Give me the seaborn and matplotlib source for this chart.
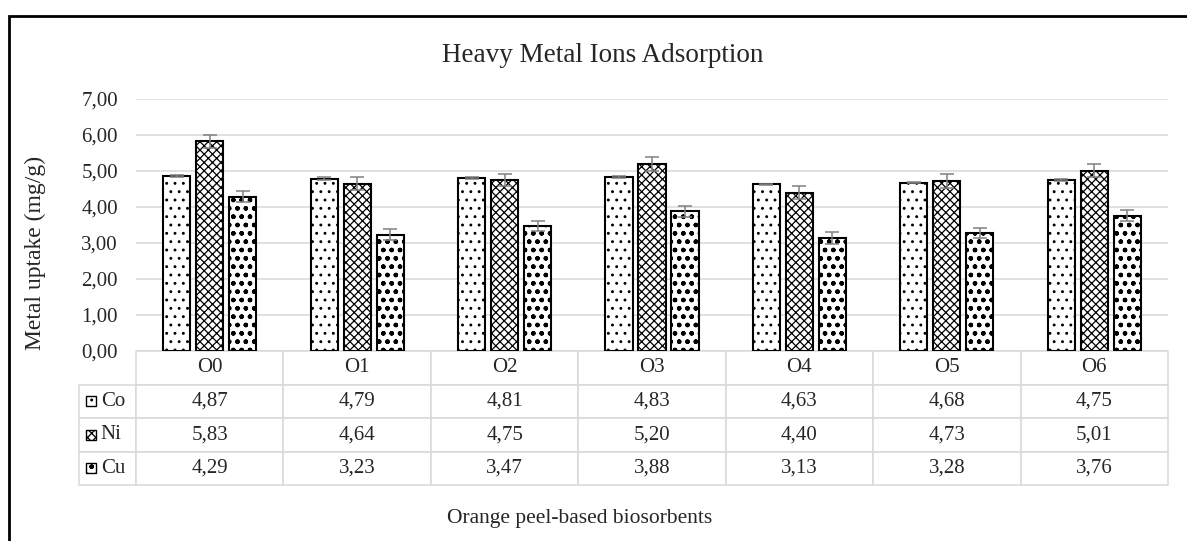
import numpy as np
import pandas as pd
import matplotlib
matplotlib.use("Agg")
import matplotlib.pyplot as plt
import seaborn as sns
from matplotlib.patches import Rectangle
from matplotlib.table import Table
from matplotlib.ticker import FuncFormatter

samples = ["O0", "O1", "O2", "O3", "O4", "O5", "O6"]
metals = ["Co", "Ni", "Cu"]
co_uptake = [4.87, 4.79, 4.81, 4.83, 4.63, 4.68, 4.75]
ni_uptake = [5.83, 4.64, 4.75, 5.20, 4.40, 4.73, 5.01]
cu_uptake = [4.29, 3.23, 3.47, 3.88, 3.13, 3.28, 3.76]
co_err = [0.03, 0.03, 0.03, 0.03, 0.02, 0.02, 0.03]
ni_err = [0.18, 0.18, 0.17, 0.19, 0.19, 0.19, 0.18]
cu_err = [0.16, 0.16, 0.15, 0.15, 0.17, 0.15, 0.16]

uptakes = [co_uptake, ni_uptake, cu_uptake]
errors = [co_err, ni_err, cu_err]
hatches = ["..", "xxxx", "oo.."]

df = pd.DataFrame({
    "sample": samples * 3,
    "metal": np.repeat(metals, len(samples)),
    "uptake": co_uptake + ni_uptake + cu_uptake,
})

sns.set_style("white")
plt.rcParams["font.family"] = ["Liberation Serif", "DejaVu Serif"]
plt.rcParams["hatch.color"] = "black"
plt.rcParams["hatch.linewidth"] = 0.9

W, H = 1187, 541
fig = plt.figure(figsize=(W / 100, H / 100), dpi=100)
ax = fig.add_axes([136 / W, 1 - 351 / H, 1032 / W, 252 / H])

sns.barplot(data=df, x="sample", y="uptake", hue="metal", order=samples, hue_order=metals,
            palette=["white"] * 3, width=0.672, gap=0.18, edgecolor="black", linewidth=1.5,
            errorbar=None, legend=False, saturation=1, ax=ax)

bar_groups = list(ax.containers)
for i, cont in enumerate(bar_groups):
    for bar in cont:
        bar.set_hatch(hatches[i])
    xs = [b.get_x() + b.get_width() / 2 for b in cont]
    ys = [b.get_height() for b in cont]
    ax.errorbar(xs, ys, yerr=errors[i], fmt="none", ecolor="#808080", elinewidth=1.1,
                capsize=4.7, capthick=1.1, zorder=5)

ax.set_ylim(0, 7)
ax.set_xlim(-0.5, len(samples) - 0.5)
ax.set_yticks(np.arange(0, 8, 1))
ax.yaxis.set_major_formatter(FuncFormatter(lambda v, p: f"{v:.2f}".replace(".", ",")))
ax.tick_params(axis="y", length=0, pad=13, labelsize=15)
ax.tick_params(axis="x", length=0, labelbottom=False)
ax.set_xlabel("")
ax.set_ylabel("")
ax.grid(axis="y", color="#d9d9d9", linewidth=1.1)
ax.set_axisbelow(True)
for s in ax.spines.values():
    s.set_visible(False)

# data table under the plot
lab_w = (136 - 79) / 1032
tbl_bottom = (351 - 485) / 252
tbl_h = -tbl_bottom
row_h = tbl_h / 4
table = Table(ax, bbox=[-lab_w, tbl_bottom, 1 + lab_w, tbl_h])
for j, s in enumerate(samples):
    table.add_cell(0, j + 1, width=1 / 7, height=row_h, text=s, loc="center")
for i, m in enumerate(metals):
    c = table.add_cell(i + 1, 0, width=lab_w, height=row_h, text=m, loc="left")
    c.PAD = 0.38
    for j, v in enumerate(uptakes[i]):
        table.add_cell(i + 1, j + 1, width=1 / 7, height=row_h,
                       text=f"{v:.2f}".replace(".", ","), loc="center")
table.auto_set_font_size(False)
table.set_fontsize(15)
for cell in table.get_celld().values():
    cell.set_edgecolor("#d9d9d9")
    cell.set_linewidth(1.1)
ax.add_table(table)

# legend swatches in the row label cells
for i, m in enumerate(metals):
    yc = tbl_bottom + tbl_h - row_h * (i + 1.5)
    sw = Rectangle((-50 / 1032, yc - 5 / 252), 10 / 1032, 10 / 252, transform=ax.transAxes,
                   facecolor="white", edgecolor="black", linewidth=1.0, hatch=hatches[i],
                   clip_on=False, zorder=6)
    ax.add_patch(sw)

fig.text(603 / W, 1 - 55 / H, "Heavy Metal Ions Adsorption", ha="center", va="center", fontsize=19.5)
fig.text(35 / W, 1 - 253 / H, "Metal uptake (mg/g)", ha="center", va="center", rotation=90, fontsize=17)
fig.text(580 / W, 1 - 518 / H, "Orange peel-based biosorbents", ha="center", va="center", fontsize=15.5)

# outer chart frame (cut by the image edges)
fig.add_artist(Rectangle((9.5 / W, -0.2), 1.5, 1.2 - 15.5 / H, transform=fig.transFigure,
                         fill=False, edgecolor="black", linewidth=2))

fig.savefig("out.png", dpi=100)
